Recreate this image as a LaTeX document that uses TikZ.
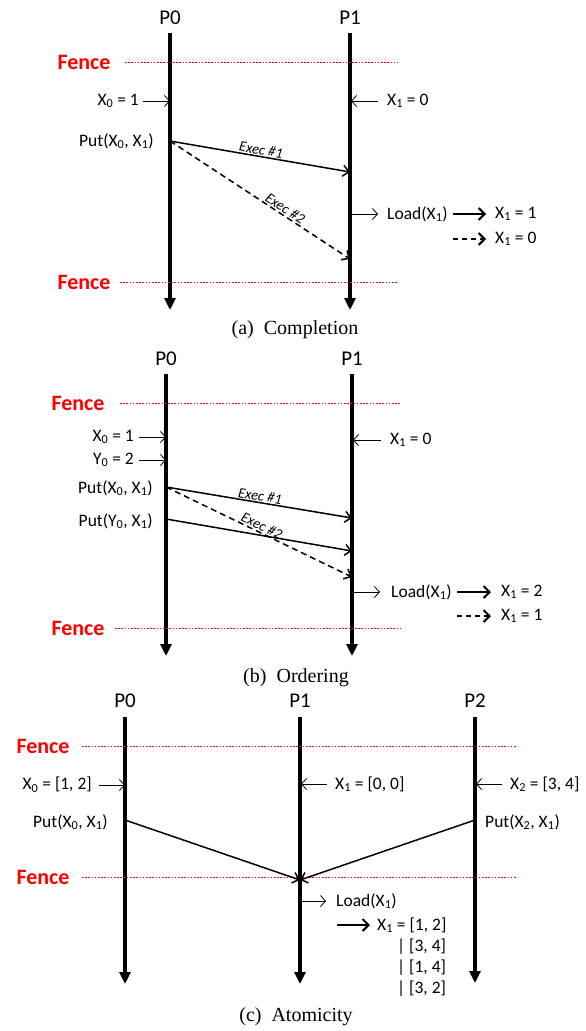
\documentclass[tikz,border=0pt]{standalone}
\usepackage{fontspec}
\setmainfont{Liberation Serif}
\newfontfamily\calfnt{Carlito}
\usetikzlibrary{arrows.meta}
\tikzset{
  proc/.style={line width=3.6pt,-{Triangle[length=12pt,width=11pt]}},
  fenceline/.style={red,line width=0.7pt,dash pattern=on 1.6pt off 1.6pt},
  fencelbl/.style={red,font=\fontsize{22}{24}\selectfont\calfnt\bfseries,inner sep=0pt},
  plbl/.style={font=\fontsize{21}{23}\selectfont\calfnt,inner sep=0pt},
  lbl/.style={font=\fontsize{17.5}{19}\selectfont\calfnt,inner sep=0pt},
  execlbl/.style={font=\fontsize{14.5}{16}\selectfont\calfnt\itshape,inner sep=1pt},
  captxt/.style={font=\fontsize{20}{22}\selectfont,inner sep=0pt},
  smallarr/.style={line width=0.8pt,-{Straight Barb[length=5pt,width=11pt]}},
  msg/.style={line width=1.5pt,-{Straight Barb[length=6pt,width=11pt]}},
  resarr/.style={line width=2pt,-{Straight Barb[length=6pt,width=12pt]}},
}
\begin{document}
\begin{tikzpicture}[x=1pt,y=-1pt]
\useasboundingbox (0,0) rectangle (586,1031);
% ---------------- (a) Completion ----------------
\node[plbl] (aP0) at (170,18) {P0};
\node[plbl] (aP1) at (350,18) {P1};
\coordinate (a0t) at (170,33); \coordinate (a0b) at (170,310);
\coordinate (a1t) at (350,33); \coordinate (a1b) at (350,310);
\draw[proc] (a0t) -- (a0b);
\draw[proc] (a1t) -- (a1b);
\node[fencelbl] (aF1) at (84,62) {Fence};
\coordinate (aF1e) at (398,62);
\draw[fenceline] (125,62) -- (aF1e);
\node[fencelbl] (aF2) at (84,282) {Fence};
\coordinate (aF2e) at (398,282);
\draw[fenceline] (120,282) -- (aF2e);
\node[lbl,anchor=east] (aX0) at (139,101) {X\textsubscript{0} = 1};
\coordinate (aX0p) at (170,101);
\draw[smallarr] ([xshift=4pt]aX0.east) -- (aX0p);
\node[lbl,anchor=west] (aX1) at (387,101) {X\textsubscript{1} = 0};
\coordinate (aX1p) at (351,101);
\draw[smallarr] ([xshift=-9pt]aX1.west) -- (aX1p);
\node[lbl,anchor=east] (aPut) at (154,141) {Put(X\textsubscript{0}, X\textsubscript{1})};
\coordinate (aS) at (170,141);
\coordinate (aE1) at (350,172);
\coordinate (aE2) at (350,259);
\draw[msg] (aS) -- node[execlbl,above,sloped,pos=0.5] (aEx1) {Exec \#1} (aE1);
\draw[msg,dash pattern=on 6pt off 4pt] (aS) -- node[execlbl,above,sloped,pos=0.62] (aEx2) {Exec \#2} (aE2);
\coordinate (aLp) at (351,214);
\node[lbl,anchor=west] (aLoad) at (387,214) {Load(X\textsubscript{1})};
\draw[smallarr] (aLp) -- ([xshift=-9pt]aLoad.west);
\node[lbl,anchor=west] (aR1) at (495,214) {X\textsubscript{1} = 1};
\node[lbl,anchor=west] (aR2) at (495,239) {X\textsubscript{1} = 0};
\draw[resarr] ([xshift=-42pt]aR1.west) -- ([xshift=-9pt]aR1.west);
\draw[resarr,dash pattern=on 5pt off 4pt] ([xshift=-42pt]aR2.west) -- ([xshift=-9pt]aR2.west);
\node[captxt] (capA) at (295,330) {(a)\ \ Completion};
% ---------------- (b) Ordering ----------------
\node[plbl] (bP0) at (166,359) {P0};
\node[plbl] (bP1) at (352,359) {P1};
\coordinate (b0t) at (166,374); \coordinate (b0b) at (166,656);
\coordinate (b1t) at (352,374); \coordinate (b1b) at (352,656);
\draw[proc] (b0t) -- (b0b);
\draw[proc] (b1t) -- (b1b);
\node[fencelbl] (bF1) at (78,403) {Fence};
\coordinate (bF1e) at (400,403);
\draw[fenceline] (120,403) -- (bF1e);
\node[fencelbl] (bF2) at (78,628) {Fence};
\coordinate (bF2e) at (400,628);
\draw[fenceline] (115,628) -- (bF2e);
\node[lbl,anchor=east] (bX0) at (134,437) {X\textsubscript{0} = 1};
\coordinate (bX0p) at (166,437);
\draw[smallarr] ([xshift=5pt]bX0.east) -- (bX0p);
\node[lbl,anchor=east] (bY0) at (134,460) {Y\textsubscript{0} = 2};
\coordinate (bY0p) at (166,460);
\draw[smallarr] ([xshift=5pt]bY0.east) -- (bY0p);
\node[lbl,anchor=west] (bX1) at (390,440) {X\textsubscript{1} = 0};
\coordinate (bX1p) at (353,440);
\draw[smallarr] ([xshift=-9pt]bX1.west) -- (bX1p);
\node[lbl,anchor=east] (bPut1) at (153,488) {Put(X\textsubscript{0}, X\textsubscript{1})};
\node[lbl,anchor=east] (bPut2) at (153,521) {Put(Y\textsubscript{0}, X\textsubscript{1})};
\coordinate (bS1) at (166,487);
\coordinate (bS2) at (166,519);
\coordinate (bE1) at (352,518);
\coordinate (bE2) at (352,551);
\coordinate (bE3) at (352,577);
\draw[msg] (bS1) -- node[execlbl,above,sloped,pos=0.5] (bEx1) {Exec \#1} (bE1);
\draw[msg] (bS2) -- (bE2);
\draw[msg,dash pattern=on 6pt off 4pt] (bS1) -- node[execlbl,above,sloped,pos=0.5] (bEx2) {Exec \#2} (bE3);
\coordinate (bLp) at (353,592);
\node[lbl,anchor=west] (bLoad) at (391,592) {Load(X\textsubscript{1})};
\draw[smallarr] (bLp) -- ([xshift=-11pt]bLoad.west);
\node[lbl,anchor=west] (bR1) at (501,592) {X\textsubscript{1} = 2};
\node[lbl,anchor=west] (bR2) at (501,616) {X\textsubscript{1} = 1};
\draw[resarr] ([xshift=-44pt]bR1.west) -- ([xshift=-10pt]bR1.west);
\draw[resarr,dash pattern=on 5pt off 4pt] ([xshift=-44pt]bR2.west) -- ([xshift=-10pt]bR2.west);
\node[captxt] (capB) at (296,678) {(b)\ \ Ordering};
% ---------------- (c) Atomicity ----------------
\node[plbl] (cP0) at (125,701) {P0};
\node[plbl] (cP1) at (300,701) {P1};
\node[plbl] (cP2) at (475,701) {P2};
\coordinate (c0t) at (125,717); \coordinate (c0b) at (125,984);
\coordinate (c1t) at (300,717); \coordinate (c1b) at (300,984);
\coordinate (c2t) at (475,717); \coordinate (c2b) at (475,983);
\draw[proc] (c0t) -- (c0b);
\draw[proc] (c1t) -- (c1b);
\draw[proc] (c2t) -- (c2b);
\node[fencelbl] (cF1) at (43,746) {Fence};
\coordinate (cF1e) at (516,746);
\draw[fenceline] (82,746) -- (cF1e);
\node[fencelbl] (cF2) at (43,877) {Fence};
\coordinate (cF2e) at (516,877);
\draw[fenceline] (82,877) -- (cF2e);
\node[lbl,anchor=east] (cX0) at (92,785) {X\textsubscript{0} = [1, 2]};
\coordinate (cX0p) at (125,785);
\draw[smallarr] ([xshift=7pt]cX0.east) -- (cX0p);
\node[lbl,anchor=west] (cX1) at (335,784) {X\textsubscript{1} = [0, 0]};
\coordinate (cX1p) at (301,784);
\draw[smallarr] ([xshift=-8pt]cX1.west) -- (cX1p);
\node[lbl,anchor=west] (cX2) at (510,784) {X\textsubscript{2} = [3, 4]};
\coordinate (cX2p) at (476,784);
\draw[smallarr] ([xshift=-8pt]cX2.west) -- (cX2p);
\node[lbl,anchor=east] (cPut0) at (108,822) {Put(X\textsubscript{0}, X\textsubscript{1})};
\node[lbl,anchor=west] (cPut2) at (485,822) {Put(X\textsubscript{2}, X\textsubscript{1})};
\coordinate (cS0) at (125,820);
\coordinate (cS2) at (475,820);
\coordinate (cM) at (300,880);
\draw[msg] (cS0) -- (cM);
\draw[msg] (cS2) -- (cM);
\coordinate (cLp) at (301,901);
\node[lbl,anchor=west] (cLoad) at (336,901) {Load(X\textsubscript{1})};
\draw[smallarr] (cLp) -- ([xshift=-10pt]cLoad.west);
\node[lbl,anchor=west] (cR1) at (377,925) {X\textsubscript{1} = [1, 2]};
\draw[resarr] ([xshift=-40pt]cR1.west) -- ([xshift=-7pt]cR1.west);
\node[lbl,anchor=west] (cR2) at (397,947) {| [3, 4]};
\node[lbl,anchor=west] (cR3) at (397,968) {| [1, 4]};
\node[lbl,anchor=west] (cR4) at (397,989) {| [3, 2]};
\node[captxt] (capC) at (296,1017) {(c)\ \ Atomicity};
\end{tikzpicture}
\end{document}
